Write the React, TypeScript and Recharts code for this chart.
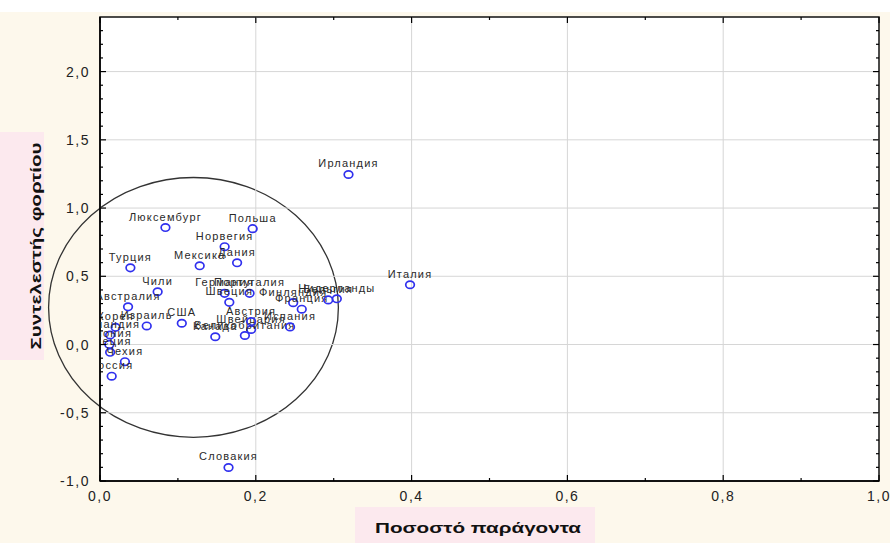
import React from 'react';
import { ScatterChart, Scatter, XAxis, YAxis, ReferenceArea, ReferenceLine } from 'recharts';

const countries = [
  'Ирландия', 'Италия', 'Словакия', 'Люксембург', 'Польша', 'Норвегия', 'Мексика', 'Дания',
  'Турция', 'Чили', 'Австралия', 'Израиль', 'США', 'Корея', 'Исландия', 'Япония', 'Греция',
  'Чехия', 'Россия', 'Германия', 'Португалия', 'Швеция', 'Финляндия', 'Франция', 'Бельгия',
  'Нидерланды', 'Швейцария', 'Великобритания', 'Канада', 'Испания', 'Австрия',
];
const xValues = [
  0.319, 0.398, 0.165, 0.084, 0.196, 0.160, 0.128, 0.176,
  0.039, 0.074, 0.036, 0.060, 0.105, 0.020, 0.013, 0.012, 0.013,
  0.032, 0.015, 0.160, 0.192, 0.166, 0.248, 0.259, 0.293,
  0.304, 0.194, 0.186, 0.148, 0.244, 0.194,
];
const yValues = [
  1.246, 0.438, -0.901, 0.857, 0.849, 0.717, 0.577, 0.599,
  0.562, 0.386, 0.276, 0.136, 0.156, 0.126, 0.070, 0.001, -0.057,
  -0.126, -0.232, 0.375, 0.375, 0.309, 0.307, 0.259, 0.327,
  0.335, 0.110, 0.066, 0.057, 0.129, 0.168,
];

const xTicks = [0, 0.1, 0.2, 0.3, 0.4, 0.5, 0.6, 0.7, 0.8, 0.9, 1.0];
const yTicks = [-1, -0.9, -0.8, -0.7, -0.6, -0.5, -0.4, -0.3, -0.2, -0.1, 0, 0.1, 0.2, 0.3, 0.4, 0.5,
  0.6, 0.7, 0.8, 0.9, 1.0, 1.1, 1.2, 1.3, 1.4, 1.5, 1.6, 1.7, 1.8, 1.9, 2.0, 2.1, 2.2, 2.3];
const xGrid = [0.2, 0.4, 0.6, 0.8];
const yGrid = [-0.5, 0, 0.5, 1.0, 1.5, 2.0];
const xDomain = [0, 1];
const yDomain = [-1, 2.4];
const ellipseX = [-0.066, 0.306];
const ellipseY = [-0.68, 1.224];

const xLabel = 'Ποσοστό παράγοντα';
const yLabel = 'Συντελεστής φορτίου';

const data = countries.map((name, i) => ({ name, x: xValues[i], y: yValues[i] }));

const W = 890;
const H = 543;
const PLOT_LEFT = 100;
const PLOT_RIGHT = 879;
const PLOT_TOP = 17;
const PLOT_BOTTOM = 481;

const fmt = (v: number) => v.toFixed(1).replace('.', ',');
const isMultiple = (v: number, step: number) => Math.abs(v / step - Math.round(v / step)) < 1e-6;
const FONT = 'Arial, "Liberation Sans", sans-serif';

const XTick = (props: any) => {
  const { x, y, payload } = props;
  const v = payload.value;
  const major = isMultiple(v, 0.2);
  const len = major ? 6 : 3;
  return (
    <g>
      <line x1={x} x2={x} y1={y} y2={y - len} stroke="#000" strokeWidth={1.2} />
      <line x1={x} x2={x} y1={PLOT_TOP} y2={PLOT_TOP + len} stroke="#000" strokeWidth={1.2} />
      {major && (
        <text x={x} y={y + 20} textAnchor="middle" fontSize={14} letterSpacing={1.5} fontFamily={FONT} fill="#222">
          {fmt(v)}
        </text>
      )}
    </g>
  );
};

const YTick = (props: any) => {
  const { x, y, payload } = props;
  const v = payload.value;
  const major = isMultiple(v, 0.5);
  const len = major ? 6 : 3;
  return (
    <g>
      <line x1={x} x2={x + len} y1={y} y2={y} stroke="#000" strokeWidth={1.2} />
      <line x1={PLOT_RIGHT} x2={PLOT_RIGHT - len} y1={y} y2={y} stroke="#000" strokeWidth={1.2} />
      {major && (
        <text x={x - 10} y={y + 5} textAnchor="end" fontSize={14} letterSpacing={1.5} fontFamily={FONT} fill="#222">
          {fmt(v)}
        </text>
      )}
    </g>
  );
};

const PointShape = (props: any) => {
  const { cx, cy, payload } = props;
  return (
    <g>
      <ellipse cx={cx} cy={cy} rx={4.3} ry={3.7} fill="none" stroke="#3030ee" strokeWidth={1.7} />
      <text
        x={cx}
        y={cy - 7}
        textAnchor="middle"
        fontSize={11}
        letterSpacing={1.2}
        fontFamily={FONT}
        fill="#2a2a2a"
      >
        {payload.name}
      </text>
    </g>
  );
};

const EllipseShape = (props: any) => {
  const { x, y, width, height } = props;
  return (
    <ellipse
      cx={x + width / 2}
      cy={y + height / 2}
      rx={Math.abs(width) / 2}
      ry={Math.abs(height) / 2}
      fill="none"
      stroke="#333"
      strokeWidth={1.3}
    />
  );
};

export default function App() {
  return (
    <div style={{ position: 'fixed', left: 0, top: 0, width: W, height: H, background: '#fdf8ec', overflow: 'hidden' }}>
      <div style={{ position: 'absolute', left: 0, top: 0, width: W, height: 12, background: '#ffffff' }} />
      <div style={{ position: 'absolute', left: 0, top: 132, width: 44, height: 228, background: '#fce9ee' }} />
      <div style={{ position: 'absolute', left: 355, top: 507, width: 240, height: 36, background: '#fce9ee' }} />
      <svg style={{ position: 'absolute', left: 0, top: 0 }} width={W} height={H}>
        <text
          transform="translate(41, 246) rotate(-90)"
          textAnchor="middle"
          fontSize={15}
          fontWeight="bold"
          fontFamily={FONT}
          fill="#111"
          textLength={207}
          lengthAdjust="spacingAndGlyphs"
          x={0}
          y={0}
        >
          {yLabel}
        </text>
        <text
          x={478}
          y={533}
          textAnchor="middle"
          fontSize={15}
          fontWeight="bold"
          fontFamily={FONT}
          fill="#111"
          textLength={206}
          lengthAdjust="spacingAndGlyphs"
        >
          {xLabel}
        </text>
      </svg>
      <div style={{ position: 'absolute', left: 0, top: 0 }}>
        <ScatterChart width={W} height={H} margin={{ top: PLOT_TOP, right: W - PLOT_RIGHT, bottom: 0, left: 0 }}>
          <XAxis
            type="number"
            dataKey="x"
            domain={xDomain}
            ticks={xTicks}
            interval={0}
            allowDataOverflow
            height={H - PLOT_BOTTOM}
            tickSize={0}
            tickMargin={0}
            tickLine={false}
            axisLine={{ stroke: '#000', strokeWidth: 1.5 }}
            tick={<XTick />}
          />
          <YAxis
            type="number"
            dataKey="y"
            domain={yDomain}
            ticks={yTicks}
            interval={0}
            allowDataOverflow
            width={PLOT_LEFT}
            tickSize={0}
            tickMargin={0}
            tickLine={false}
            axisLine={{ stroke: '#000', strokeWidth: 1.5 }}
            tick={<YTick />}
          />
          <ReferenceArea
            x1={xDomain[0]}
            x2={xDomain[1]}
            y1={yDomain[0]}
            y2={yDomain[1]}
            fill="#ffffff"
            fillOpacity={1}
            stroke="none"
          />
          {xGrid.map((v) => (
            <ReferenceLine key={'gx' + v} x={v} stroke="#d6d6d6" strokeWidth={1} />
          ))}
          {yGrid.map((v) => (
            <ReferenceLine key={'gy' + v} y={v} stroke="#d6d6d6" strokeWidth={1} />
          ))}
          <ReferenceArea
            x1={ellipseX[0]}
            x2={ellipseX[1]}
            y1={ellipseY[0]}
            y2={ellipseY[1]}
            ifOverflow="visible"
            shape={EllipseShape}
          />
          <ReferenceArea
            x1={xDomain[0]}
            x2={xDomain[1]}
            y1={yDomain[0]}
            y2={yDomain[1]}
            fill="none"
            stroke="#111"
            strokeWidth={1.5}
          />
          <Scatter data={data} shape={PointShape} isAnimationActive={false} />
        </ScatterChart>
      </div>
    </div>
  );
}
